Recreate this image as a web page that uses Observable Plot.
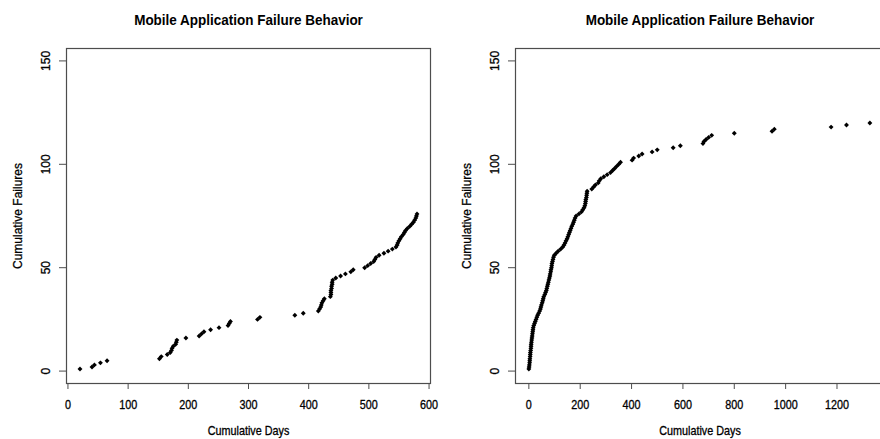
<!DOCTYPE html>
<html><head><meta charset="utf-8">
<script src="https://cdn.jsdelivr.net/npm/d3@7"></script>
<script src="https://cdn.jsdelivr.net/npm/@observablehq/plot@0.6"></script>
<style>
html,body{margin:0;padding:0;background:#fff;overflow:hidden;}
#wrap{display:flex;width:900px;}
#wrap svg{display:block;flex:none;}
</style></head><body><div id="wrap"></div>
<script>
const chartTitle = "Mobile Application Failure Behavior";
const xLabel = "Cumulative Days";
const yLabel = "Cumulative Failures";
const yTicks = [0, 50, 100, 150];
const leftXTicks = [0, 100, 200, 300, 400, 500, 600];
const rightXTicks = [0, 200, 400, 600, 800, 1000, 1200];

const leftFailures = [1,2,3,4,5,6,7,8,9,10,11,12,13,14,15,16,17,18,19,20,21,22,23,24,25,26,27,28,29,30,31,32,33,34,35,36,37,38,39,40,41,42,43,44,45,46,47,48,49,50,51,52,53,54,55,56,57,58,59,60,61,62,63,64,65,66,67,68,69,70,71,72,73,74,75,76];
const leftDays = [20,40,44,54,65,152,155,165,170,172,173,175,179,180,181,196,218,222,226,237,251,266,268,270,315,319,377,391,416,418,420,421,422,424,426,436,437,437,437,438,438,439,439,440,445,453,461,470,474,493,498,503,508,510,512,517,525,532,539,545,547,548,550,552,554,557,559,561,564,568,571,574,576,578,579,580];

const rightFailures = [1,2,3,4,5,6,7,8,9,10,11,12,13,14,15,16,17,18,19,20,21,22,23,24,25,26,27,28,29,30,31,32,33,34,35,36,37,38,39,40,41,42,43,44,45,46,47,48,49,50,51,52,53,54,55,56,57,58,59,60,61,62,63,64,65,66,67,68,69,70,71,72,73,74,75,76,77,78,79,80,81,82,83,84,85,86,87,88,89,90,91,92,93,94,95,96,97,98,99,100,101,102,103,104,105,106,107,108,109,110,111,112,113,114,115,116,117,118,119,120];
const rightDays = [0,1,2,3,3.5,4,5,5.5,6,7,8,8.5,9,10,11,12,13,14,15,16,17,19,22,25,28,31,34,38,42,45,47,49,52,54,56,58,62,65,68,70,72,74,76,78,80,82,83,85,86,88,89,90,92,94,96,99,106,114,124,132,137,141,145,149,152,155,158,161,164,167,171,174,177,180,184,195,205,210,215,218,220,221,222,224,225,226,227,245,252,259,270,274,280,292,305,318,326,334,342,350,357,402,408,428,441,480,500,562,590,678,682,690,700,712,800,947,956,1177,1237,1328];

const font = "'Liberation Sans', Arial, Helvetica, sans-serif";
const axisColor = "#4d4d4d";
const squeeze = 0.9; // horizontal compression of the reference's lettering
const heavy = {fill: "#000", stroke: "#000", strokeWidth: 0.3};

function panel({days, failures, xDomain, xTicks, width, marginLeft, marginRight}) {
  const data = days.map((d, i) => ({day: d, failures: failures[i]}));
  const svg = Plot.plot({
    width, height: 439,
    marginLeft, marginRight, marginTop: 48, marginBottom: 56,
    x: {domain: xDomain},
    y: {domain: [-6, 156]},
    style: {fontFamily: font, fontSize: "12px", color: "#000", background: "#fff", overflow: "visible"},
    marks: [
      Plot.frame({stroke: axisColor, strokeWidth: 1.2}),
      Plot.axisX({ticks: xTicks, tickSize: 6, tickPadding: 11, stroke: axisColor, label: null, tickFormat: d => String(d), fill: "#000", fontSize: 12, textStroke: "#000", textStrokeWidth: 0.3}),
      Plot.axisY({ticks: yTicks, tickSize: 7, tickFormat: () => "", stroke: axisColor, label: null}),
      Plot.text(yTicks, {y: d => d, text: d => String(d), frameAnchor: "left", dx: -20, rotate: -90, textAnchor: "middle", lineAnchor: "middle", fontSize: 12, ...heavy}),
      Plot.text([xLabel], {text: d => d, frameAnchor: "bottom", dy: 48, textAnchor: "middle", lineAnchor: "middle", fontSize: 12, ...heavy}),
      Plot.text([yLabel], {text: d => d, frameAnchor: "left", dx: -48, rotate: -90, textAnchor: "middle", lineAnchor: "middle", fontSize: 12, ...heavy}),
      Plot.text([chartTitle], {text: d => d, frameAnchor: "top", dy: -28, textAnchor: "middle", lineAnchor: "middle", fontSize: 15, fontWeight: "bold", fill: "#000"}),
      Plot.dot(data, {x: "day", y: "failures", symbol: "diamond2", r: 2.2, fill: "#000", stroke: "none"})
    ]
  });
  // compress horizontal lettering like the reference
  d3.select(svg).selectAll("text").each(function() {
    const t = this.getAttribute("transform") || "";
    if (t.includes("rotate")) return;
    if (t) {
      this.setAttribute("transform", `${t} scale(${squeeze},1)`);
    } else {
      const x = +(this.getAttribute("x") || 0);
      this.setAttribute("transform", `translate(${x},0) scale(${squeeze},1) translate(${-x},0)`);
    }
  });
  return svg;
}

const wrap = document.getElementById("wrap");
wrap.append(panel({days: leftDays, failures: leftFailures, xDomain: [-2.4, 602.4], xTicks: leftXTicks, width: 440, marginLeft: 66, marginRight: 10}));
wrap.append(panel({days: rightDays, failures: rightFailures, xDomain: [-52, 1385], xTicks: rightXTicks, width: 450, marginLeft: 75, marginRight: 6}));
</script>
</body></html>
